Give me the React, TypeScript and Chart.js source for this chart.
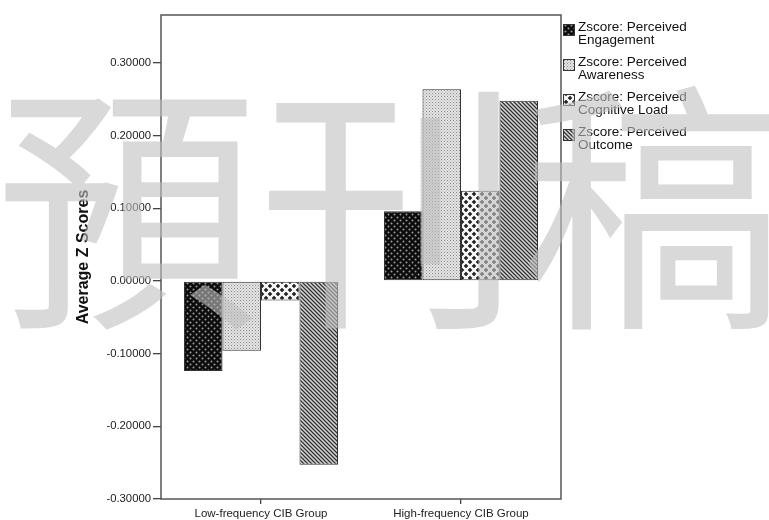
import React, { useEffect, useRef } from 'react';
import { Chart, registerables } from 'chart.js';

Chart.register(...registerables);

// groups on the x axis
const groups = ['Low-frequency CIB Group', 'High-frequency CIB Group'];

// one series per measure: [low, high]
const engagement = [-0.124, 0.096];
const awareness = [-0.096, 0.264];
const cognitiveLoad = [-0.027, 0.124];
const outcome = [-0.253, 0.248];

const seriesLabels = [
  ['Zscore: Perceived', 'Engagement'],
  ['Zscore: Perceived', 'Awareness'],
  ['Zscore: Perceived', 'Cognitive Load'],
  ['Zscore: Perceived', 'Outcome'],
];

const yTicks = [-0.3, -0.2, -0.1, 0, 0.1, 0.2, 0.3];
const watermark = '預刊稿';

const FONT = 'Arial, "Liberation Sans", sans-serif';

// build the SPSS-like fill patterns
const makePattern = (size: number, draw: (c: CanvasRenderingContext2D) => void) => {
  const cv = document.createElement('canvas');
  cv.width = size;
  cv.height = size;
  const c = cv.getContext('2d')!;
  draw(c);
  return c.createPattern(cv, 'repeat')!;
};

const buildPatterns = () => {
  const dots = makePattern(6, (c) => {
    c.fillStyle = '#0c0c0c';
    c.fillRect(0, 0, 6, 6);
    c.fillStyle = '#9a9a9a';
    c.beginPath();
    c.arc(1.5, 1.5, 1.0, 0, Math.PI * 2);
    c.fill();
    c.beginPath();
    c.arc(4.5, 4.5, 1.0, 0, Math.PI * 2);
    c.fill();
  });
  const fine = makePattern(3, (c) => {
    c.fillStyle = '#e2e2e2';
    c.fillRect(0, 0, 3, 3);
    c.fillStyle = '#8c8c8c';
    c.fillRect(0, 0, 1, 1);
    c.fillStyle = '#b0b0b0';
    c.fillRect(1.5, 1.5, 1, 1);
  });
  const plus = makePattern(8, (c) => {
    c.fillStyle = '#f4f4f4';
    c.fillRect(0, 0, 8, 8);
    c.fillStyle = '#1a1a1a';
    const cross = (x: number, y: number) => {
      c.fillRect(x - 2, y - 0.75, 4, 1.5);
      c.fillRect(x - 0.75, y - 2, 1.5, 4);
    };
    cross(2, 2);
    cross(6, 6);
  });
  const stripes = makePattern(4, (c) => {
    c.fillStyle = '#d8d8d8';
    c.fillRect(0, 0, 4, 4);
    c.strokeStyle = '#333';
    c.lineWidth = 1.3;
    c.beginPath();
    c.moveTo(-1, -1);
    c.lineTo(5, 5);
    c.moveTo(-1, 3);
    c.lineTo(1, 5);
    c.moveTo(3, -1);
    c.lineTo(5, 1);
    c.stroke();
  });
  return [dots, fine, plus, stripes];
};

const App: React.FC = () => {
  const chartRef = useRef<HTMLCanvasElement>(null);
  const chartInstanceRef = useRef<Chart | null>(null);

  useEffect(() => {
    document.body.style.margin = '0';
    if (!chartRef.current) return;
    const ctx = chartRef.current.getContext('2d');
    if (!ctx) return;

    if (chartInstanceRef.current) {
      chartInstanceRef.current.destroy();
    }

    const patterns = buildPatterns();
    const values = [engagement, awareness, cognitiveLoad, outcome];

    // frame, multi-line legend and watermark
    const overlay = {
      id: 'overlay',
      afterDraw(chart: Chart) {
        const c = chart.ctx;
        const { left, right, top, bottom } = chart.chartArea;
        c.save();
        c.strokeStyle = '#555';
        c.lineWidth = 1.5;
        c.strokeRect(left, top, right - left, bottom - top);

        const x0 = right + 2;
        seriesLabels.forEach((lines, i) => {
          const y0 = 27 + i * 35;
          c.fillStyle = patterns[i];
          c.fillRect(x0, y0 - 3, 12, 12);
          c.strokeStyle = '#333';
          c.lineWidth = 1;
          c.strokeRect(x0 + 0.5, y0 - 2.5, 11, 11);
          c.fillStyle = '#111';
          c.font = `13.5px ${FONT}`;
          c.textBaseline = 'middle';
          c.textAlign = 'left';
          lines.forEach((t, j) => c.fillText(t, x0 + 15, y0 + j * 13.5));
        });

        c.fillStyle = 'rgba(192,192,192,0.6)';
        c.font = '263px "Noto Sans CJK TC", "Noto Sans CJK SC", sans-serif';
        c.textAlign = 'center';
        c.textBaseline = 'middle';
        c.fillText(watermark, 390, 208);
        c.restore();
      },
    };

    chartInstanceRef.current = new Chart(ctx, {
      type: 'bar',
      data: {
        labels: groups,
        datasets: seriesLabels.map((lines, i) => ({
          label: lines.join(' '),
          data: values[i],
          backgroundColor: patterns[i],
          borderColor: '#333',
          borderWidth: 1,
          borderSkipped: false,
          categoryPercentage: 0.77,
          barPercentage: 1,
        })),
      },
      options: {
        animation: false,
        responsive: true,
        maintainAspectRatio: false,
        layout: { padding: { top: 15, right: 208, bottom: 0, left: 0 } },
        scales: {
          x: {
            grid: { drawOnChartArea: false, offset: false, tickLength: 5, color: '#444', lineWidth: 1.3 },
            border: { display: false },
            ticks: { color: '#222', padding: 3, font: { family: FONT, size: 11.5 } },
            afterFit: (scale: any) => { scale.height = 21; },
          },
          y: {
            min: -0.3,
            max: 0.366,
            grid: { drawOnChartArea: false, tickLength: 8, color: '#444', lineWidth: 1.3 },
            border: { display: false },
            afterBuildTicks: (scale: any) => { scale.ticks = yTicks.map((v) => ({ value: v })); },
            afterFit: (scale: any) => { scale.width = 161; },
            ticks: {
              color: '#222',
              padding: 2,
              font: { family: FONT, size: 11.3 },
              callback: (v: string | number) => Number(v).toFixed(5),
            },
            title: {
              display: true,
              text: 'Average Z Scores',
              color: '#111',
              padding: { top: 74, bottom: 0 },
              font: { family: FONT, size: 16, weight: 'bold' },
            },
          },
        },
        plugins: {
          legend: { display: false },
          tooltip: { enabled: false },
        },
      },
      plugins: [overlay],
    });

    return () => {
      if (chartInstanceRef.current) {
        chartInstanceRef.current.destroy();
        chartInstanceRef.current = null;
      }
    };
  }, []);

  return (
    <div style={{ position: 'relative', width: 769, height: 520, background: '#fff' }}>
      <canvas ref={chartRef}></canvas>
    </div>
  );
};

export default App;
